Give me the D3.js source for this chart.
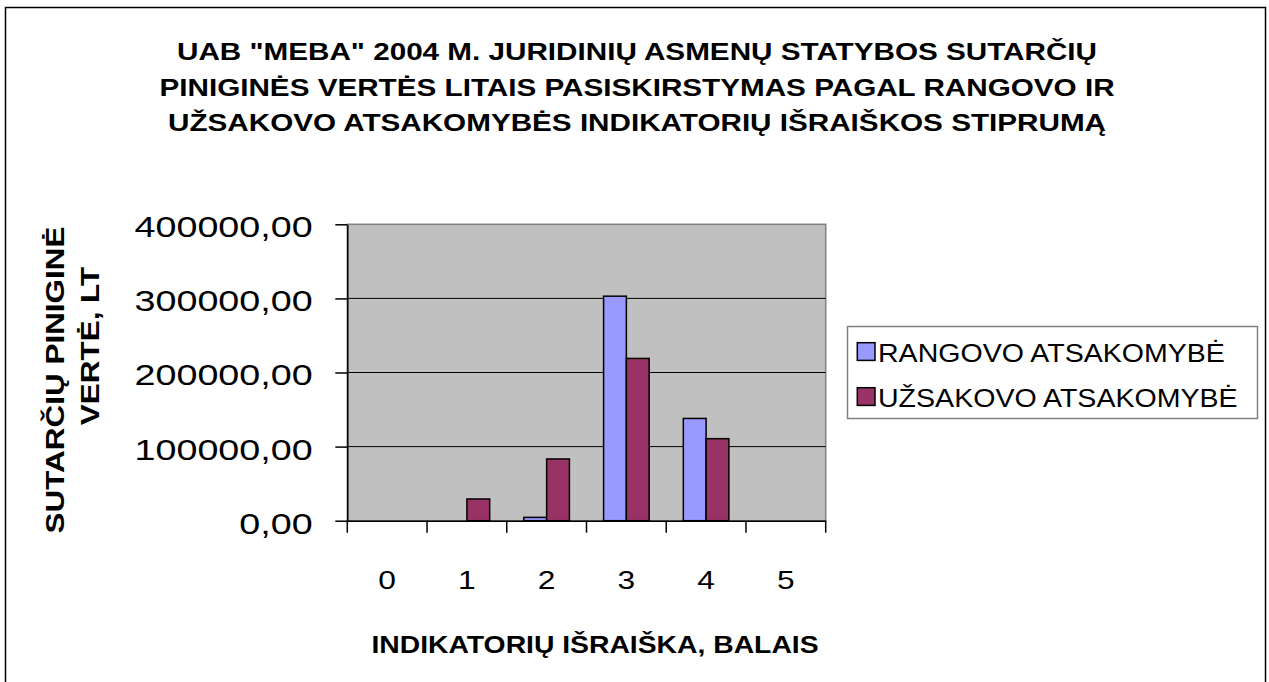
<!DOCTYPE html>
<html>
<head>
<meta charset="utf-8">
<script src="https://cdn.jsdelivr.net/npm/d3@7"></script>
<style>
  body { margin: 0; background: #fff; }
  svg text { font-family: "Liberation Sans", Arial, sans-serif; fill: #000; }
</style>
</head>
<body>
<svg id="chart"></svg>
<script>
const categories = ["0", "1", "2", "3", "4", "5"];
const seriesNames = ["RANGOVO ATSAKOMYBĖ", "UŽSAKOVO ATSAKOMYBĖ"];
const rangovo = [0, 0, 4500, 303000, 138000, 0];
const uzsakovo = [0, 29300, 83300, 219000, 110700, 0];
const yTicks = [0, 100000, 200000, 300000, 400000];
const titleLines = [
  'UAB "MEBA" 2004 M. JURIDINIŲ ASMENŲ STATYBOS SUTARČIŲ',
  "PINIGINĖS VERTĖS LITAIS PASISKIRSTYMAS PAGAL RANGOVO IR",
  "UŽSAKOVO ATSAKOMYBĖS INDIKATORIŲ IŠRAIŠKOS STIPRUMĄ"
];
const yTitleLines = ["SUTARČIŲ PINIGINĖ", "VERTĖ,  LT"];
const xTitle = "INDIKATORIŲ IŠRAIŠKA, BALAIS";

const colors = ["#9999ff", "#993366"];

const width = 1269,
  height = 682;
const plot = { left: 347.3, right: 825.7, top: 224.3, bottom: 520.7 };

const svg = d3.select("#chart").attr("width", width).attr("height", height);

// outer frame
svg
  .append("rect")
  .attr("x", 5.5)
  .attr("y", 7.5)
  .attr("width", 1260)
  .attr("height", 690)
  .attr("fill", "#fff")
  .attr("stroke", "#000")
  .attr("stroke-width", 1.5);

// text drawn slightly stretched along its baseline, like the original export
function stretchedText(parent, x, y, str, opts) {
  const g = parent
    .append("g")
    .attr(
      "transform",
      `translate(${x},${y})` +
        (opts.rotate ? ` rotate(${opts.rotate})` : "") +
        ` scale(${opts.sx || 1},1)`
    );
  return g
    .append("text")
    .attr("text-anchor", opts.anchor || "middle")
    .attr("font-size", opts.size)
    .attr("font-weight", opts.bold ? "bold" : "normal")
    .text(str);
}

// title
titleLines.forEach((line, i) => {
  stretchedText(svg, 637, 60 + i * 35.7, line, { size: 23, bold: true, sx: 1.29 });
});

const x = d3
  .scaleBand()
  .domain(categories)
  .range([plot.left, plot.right])
  .padding(0);

const bw = x.bandwidth() / 3.5;
const x1 = d3
  .scaleBand()
  .domain(seriesNames)
  .range([bw * 0.75, x.bandwidth() - bw * 0.75])
  .padding(0);

const y = d3
  .scaleLinear()
  .domain([0, 400000])
  .range([plot.bottom, plot.top]);

// plot area
svg
  .append("rect")
  .attr("x", plot.left)
  .attr("y", plot.top)
  .attr("width", plot.right - plot.left)
  .attr("height", plot.bottom - plot.top)
  .attr("fill", "#c0c0c0")
  .attr("stroke", "#808080")
  .attr("stroke-width", 1.5);

// gridlines
svg
  .append("g")
  .selectAll("line")
  .data(yTicks.filter((d) => d > 0 && d < 400000))
  .enter()
  .append("line")
  .attr("x1", plot.left)
  .attr("x2", plot.right)
  .attr("y1", (d) => y(d))
  .attr("y2", (d) => y(d))
  .attr("stroke", "#000")
  .attr("stroke-width", 1);

// bars
const rows = categories.map((c, i) => ({
  cat: c,
  values: [
    { name: seriesNames[0], value: rangovo[i], color: colors[0] },
    { name: seriesNames[1], value: uzsakovo[i], color: colors[1] }
  ]
}));

svg
  .append("g")
  .selectAll("g")
  .data(rows)
  .enter()
  .append("g")
  .attr("transform", (d) => `translate(${x(d.cat)},0)`)
  .selectAll("rect")
  .data((d) => d.values.filter((v) => v.value > 0))
  .enter()
  .append("rect")
  .attr("x", (d) => x1(d.name))
  .attr("y", (d) => y(d.value))
  .attr("width", x1.bandwidth())
  .attr("height", (d) => y(0) - y(d.value))
  .attr("fill", (d) => d.color)
  .attr("stroke", "#000")
  .attr("stroke-width", 1.5);

// Y axis
const fmt = d3.formatLocale({
  decimal: ",",
  thousands: "",
  grouping: [3],
  currency: ["", ""]
}).format(".2f");

const yAxis = svg
  .append("g")
  .attr("transform", `translate(${plot.left},0)`)
  .call(d3.axisLeft(y).tickValues(yTicks).tickSize(12).tickSizeOuter(0).tickFormat(fmt));
yAxis.select(".domain").attr("stroke", "#000").attr("stroke-width", 1.5);
yAxis.selectAll(".tick line").attr("stroke", "#000").attr("stroke-width", 1.5);
yAxis.selectAll(".tick text").remove();
yAxis.selectAll(".tick").each(function (d) {
  stretchedText(d3.select(this), -34.6, 12.4, fmt(d), {
    size: 29,
    sx: 1.3,
    anchor: "end"
  });
});

// X axis
const xAxis = svg
  .append("g")
  .attr("transform", `translate(0,${plot.bottom})`)
  .call(d3.axisBottom(x).tickSize(0).tickSizeOuter(0));
xAxis.select(".domain").attr("stroke", "#000").attr("stroke-width", 1.5);
xAxis.selectAll(".tick text").remove();
xAxis.selectAll(".tick line").remove();
xAxis.selectAll(".tick").each(function (d) {
  stretchedText(d3.select(this), 0, 68.6, d, { size: 26, sx: 1.22 });
});
// category separators
xAxis
  .selectAll(".sep")
  .data(categories.concat(["end"]))
  .enter()
  .append("line")
  .attr("class", "sep")
  .attr("x1", (d, i) => (i < categories.length ? x(d) : plot.right))
  .attr("x2", (d, i) => (i < categories.length ? x(d) : plot.right))
  .attr("y1", 0)
  .attr("y2", 12)
  .attr("stroke", "#000")
  .attr("stroke-width", 1.5);

// axis titles
stretchedText(svg, 595, 653.3, xTitle, { size: 24, bold: true, sx: 1.18 });
stretchedText(svg, 63.5, 380, yTitleLines[0], { size: 26, bold: true, sx: 1.21, rotate: -90 });
stretchedText(svg, 99, 346, yTitleLines[1], { size: 26, bold: true, sx: 1.21, rotate: -90 });

// legend
const legend = svg.append("g");
legend
  .append("rect")
  .attr("x", 847.5)
  .attr("y", 326.5)
  .attr("width", 410)
  .attr("height", 92)
  .attr("fill", "#fff")
  .attr("stroke", "#808080")
  .attr("stroke-width", 1.5);

seriesNames.forEach((name, i) => {
  const ly = 342.7 + i * 45;
  legend
    .append("rect")
    .attr("x", 857.3)
    .attr("y", ly)
    .attr("width", 17.7)
    .attr("height", 17.7)
    .attr("fill", colors[i])
    .attr("stroke", "#000")
    .attr("stroke-width", 1.5);
  stretchedText(legend, 878, ly + 19, name, { size: 25.5, sx: 1.12, anchor: "start" });
});
</script>
</body>
</html>
